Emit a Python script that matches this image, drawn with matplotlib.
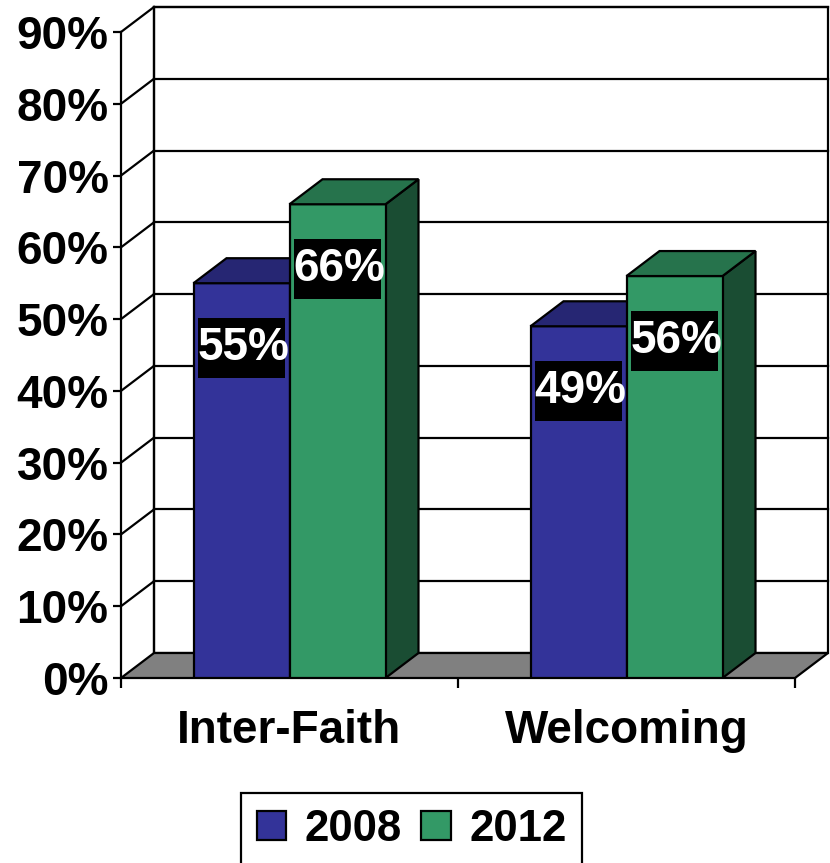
import numpy as np
import matplotlib
matplotlib.use('Agg')
import matplotlib.pyplot as plt
from matplotlib.patches import Polygon, Rectangle

plt.rcParams['font.family'] = ['Liberation Sans', 'DejaVu Sans']
plt.rcParams['font.weight'] = 'bold'

categories = ['Inter-Faith', 'Welcoming']
years = ['2008', '2012']
values_2008 = [55, 49]
values_2012 = [66, 56]
y_ticks = [0, 10, 20, 30, 40, 50, 60, 70, 80, 90]

front_colors = ['#333399', '#339966']
top_colors = ['#262673', '#26734C']
side_colors = ['#1A1A4D', '#1A4D33']

W, H = 830, 863
fig = plt.figure(figsize=(W / 100, H / 100), dpi=100)
# front plane of the 3d box, in pixels
left, right, bottom, top = 121, 795, 678, 32
ax = fig.add_axes([left / W, 1 - bottom / H, (right - left) / W, (bottom - top) / H])
ax.set_xlim(-0.5, 1.5)
ax.set_ylim(0, 90)
ax.patch.set_visible(False)

# one pixel in data units
px_x = 2.0 / (right - left)
px_y = 90.0 / (bottom - top)
# depth of the box (33px across, 25px up)
dx = 33 * px_x
dy = 25 * px_y
x0, x1 = -0.5, 1.5
lw = 1.6
fs = 33

# back wall
ax.add_patch(Polygon([(x0 + dx, dy), (x1 + dx, dy), (x1 + dx, 90 + dy), (x0 + dx, 90 + dy)],
                     closed=True, facecolor='white', edgecolor='black', lw=lw,
                     clip_on=False, zorder=0.5))
for v in y_ticks[1:]:
    ax.plot([x0 + dx, x1 + dx], [v + dy, v + dy], color='black', lw=lw, clip_on=False, zorder=0.6)
    ax.plot([x0, x0 + dx], [v, v + dy], color='black', lw=lw, clip_on=False, zorder=0.6)
ax.plot([x0 + dx, x0 + dx], [dy, 90 + dy], color='black', lw=lw, clip_on=False, zorder=0.6)

# floor
ax.add_patch(Polygon([(x0, 0), (x1, 0), (x1 + dx, dy), (x0 + dx, dy)], closed=True,
                     facecolor='#808080', edgecolor='black', lw=lw, clip_on=False, zorder=1))

# bars
bw = 96 * px_x
x = np.arange(len(categories))
series = [values_2008, values_2012]
containers = []
for i in range(len(categories)):
    for s, vals in enumerate(series):
        xl = x[i] - bw + s * bw
        v = vals[i]
        z = 3 + s * 0.1 + i
        c = ax.bar(xl, v, width=bw, align='edge', color=front_colors[s], edgecolor='black',
                   lw=lw, zorder=z)
        if i == 0:
            containers.append(c)
        ax.add_patch(Polygon([(xl, v), (xl + bw, v), (xl + bw + dx, v + dy), (xl + dx, v + dy)],
                             closed=True, facecolor=top_colors[s], edgecolor='black', lw=lw,
                             clip_on=False, zorder=z))
        ax.add_patch(Polygon([(xl + bw, 0), (xl + bw + dx, dy), (xl + bw + dx, v + dy), (xl + bw, v)],
                             closed=True, facecolor=side_colors[s], edgecolor='black', lw=lw,
                             clip_on=False, zorder=z - 0.05))
        # value label: black box with white text
        xc = xl + bw / 2
        yc = v - 9
        ax.add_patch(Rectangle((xc - 44 * px_x, yc - 30 * px_y), 87 * px_x, 60 * px_y,
                               facecolor='black', edgecolor='none', zorder=9))
        ax.text(xc + 2 * px_x, yc, f'{v}%', ha='center', va='center', color='white',
                fontsize=fs, fontweight='bold', zorder=10)

# axes
for sp in ['top', 'right', 'bottom']:
    ax.spines[sp].set_visible(False)
ax.spines['left'].set_linewidth(lw)
ax.spines['left'].set_zorder(2)
ax.set_yticks(y_ticks)
ax.set_yticklabels([f'{v}%' for v in y_ticks])
ax.tick_params(axis='y', direction='out', length=6, width=lw, pad=3, labelsize=fs)
ax.set_xticks(x)
ax.set_xticklabels(categories)
ax.set_xticks([-0.5, 0.5, 1.5], minor=True)
ax.tick_params(axis='x', which='major', length=0, pad=22, labelsize=fs)
ax.tick_params(axis='x', which='minor', direction='out', length=7, width=lw)
for lab in ax.get_xticklabels() + ax.get_yticklabels():
    lab.set_fontweight('bold')

fig.legend(handles=containers, labels=years, loc='upper left',
           bbox_to_anchor=(241 / W, 1 - 793 / H), ncol=2,
           prop={'weight': 'bold', 'size': 31.5}, frameon=True, fancybox=False,
           edgecolor='black', framealpha=1, borderpad=0.36, handlelength=0.67,
           handleheight=0.67, handletextpad=0.42, columnspacing=0.45,
           borderaxespad=0)
fig.legends[0].get_frame().set_linewidth(lw)

fig.savefig('out.png', dpi=100)
